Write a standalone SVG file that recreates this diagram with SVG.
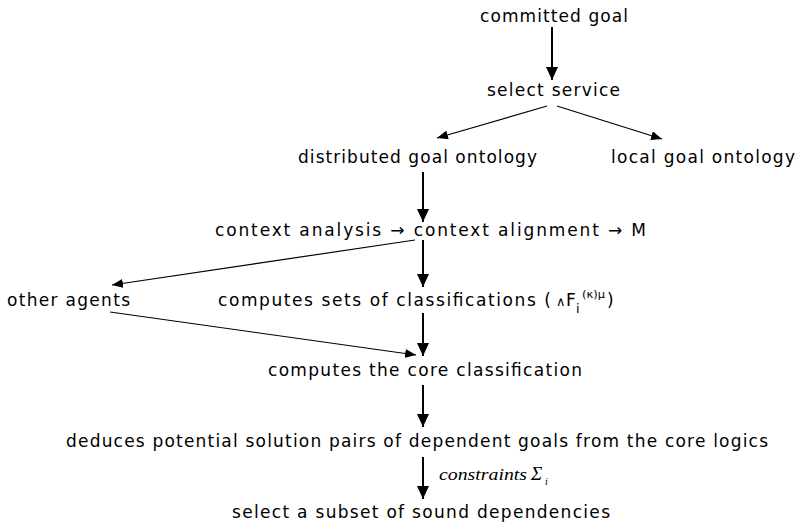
<svg xmlns="http://www.w3.org/2000/svg" width="797" height="525" viewBox="0 0 797 525">
<defs>
<marker id="ah" markerUnits="userSpaceOnUse" markerWidth="14" markerHeight="12" viewBox="0 0 14 12" refX="13" refY="6" orient="auto">
<path d="M0,0 L13,6 L0,12 Z" fill="#000"/>
</marker>
<marker id="ahs" markerUnits="userSpaceOnUse" markerWidth="12" markerHeight="9" viewBox="0 0 12 9" refX="11" refY="4.5" orient="auto">
<path d="M0,0 L11,4.5 L0,9 Z" fill="#000"/>
</marker>
</defs>
<style>
text{font-family:"DejaVu Sans","Liberation Sans",sans-serif;font-size:17px;fill:#000}
text.it{font-family:"Liberation Serif","DejaVu Serif",serif;font-style:italic;font-size:16px}
text.sig{font-size:19px}
text.sub{font-size:10px}
text.sm{font-size:13px}
text.sup{font-size:11px}
.v{stroke:#000;stroke-width:2;fill:none;marker-end:url(#ah)}
.d{stroke:#000;stroke-width:1.2;fill:none;marker-end:url(#ahs)}
</style>
<rect width="797" height="525" fill="#fff"/>
<g id="connectors">
<line class="v" x1="552" y1="27" x2="552" y2="80"/>
<line class="d" x1="547" y1="106" x2="437" y2="138"/>
<line class="d" x1="557" y1="106" x2="662" y2="139"/>
<line class="v" x1="423" y1="172" x2="423" y2="222"/>
<line class="d" x1="415" y1="240" x2="112" y2="285"/>
<line class="v" x1="423" y1="240" x2="423" y2="287"/>
<line class="d" x1="110" y1="312" x2="416" y2="355"/>
<line class="v" x1="423" y1="313" x2="423" y2="356"/>
<line class="v" x1="423" y1="385" x2="423" y2="427"/>
<line class="v" x1="423" y1="457" x2="423" y2="499"/>
</g>
<g id="committed-goal"><text x="480" y="22" textLength="148" lengthAdjust="spacing">committed goal</text></g>
<g id="select-service"><text x="487" y="96" textLength="133" lengthAdjust="spacing">select service</text></g>
<g id="distributed-goal-ontology"><text x="298" y="163" textLength="239" lengthAdjust="spacing">distributed goal ontology</text></g>
<g id="local-goal-ontology"><text x="611" y="163" textLength="184" lengthAdjust="spacing">local goal ontology</text></g>
<g id="context-analysis"><text x="215" y="236" textLength="431" lengthAdjust="spacing">context analysis → context alignment → M</text></g>
<g id="other-agents"><text x="7" y="306" textLength="123" lengthAdjust="spacing">other agents</text></g>
<g id="computes-sets">
<text x="218" y="306" textLength="333" lengthAdjust="spacing">computes sets of classifications (</text>
<text class="sm" x="556" y="306">∧</text>
<text x="566" y="306">F</text>
<text class="sm" x="576" y="313">i</text>
<text class="sup" x="582" y="298" textLength="23" lengthAdjust="spacingAndGlyphs">(κ)μ</text>
<text x="607" y="306">)</text>
</g>
<g id="core-classification"><text x="268" y="376" textLength="314" lengthAdjust="spacing">computes the core classification</text></g>
<g id="deduces"><text x="66" y="447" textLength="702" lengthAdjust="spacing">deduces potential solution pairs of dependent goals from the core logics</text></g>
<g id="constraints">
<text class="it" x="439" y="480" textLength="88" lengthAdjust="spacingAndGlyphs">constraints</text>
<text class="it sig" x="531" y="480">Σ</text>
<text class="it sub" x="545" y="485">i</text>
</g>
<g id="select-subset"><text x="232" y="518" textLength="378" lengthAdjust="spacing">select a subset of sound dependencies</text></g>
</svg>
